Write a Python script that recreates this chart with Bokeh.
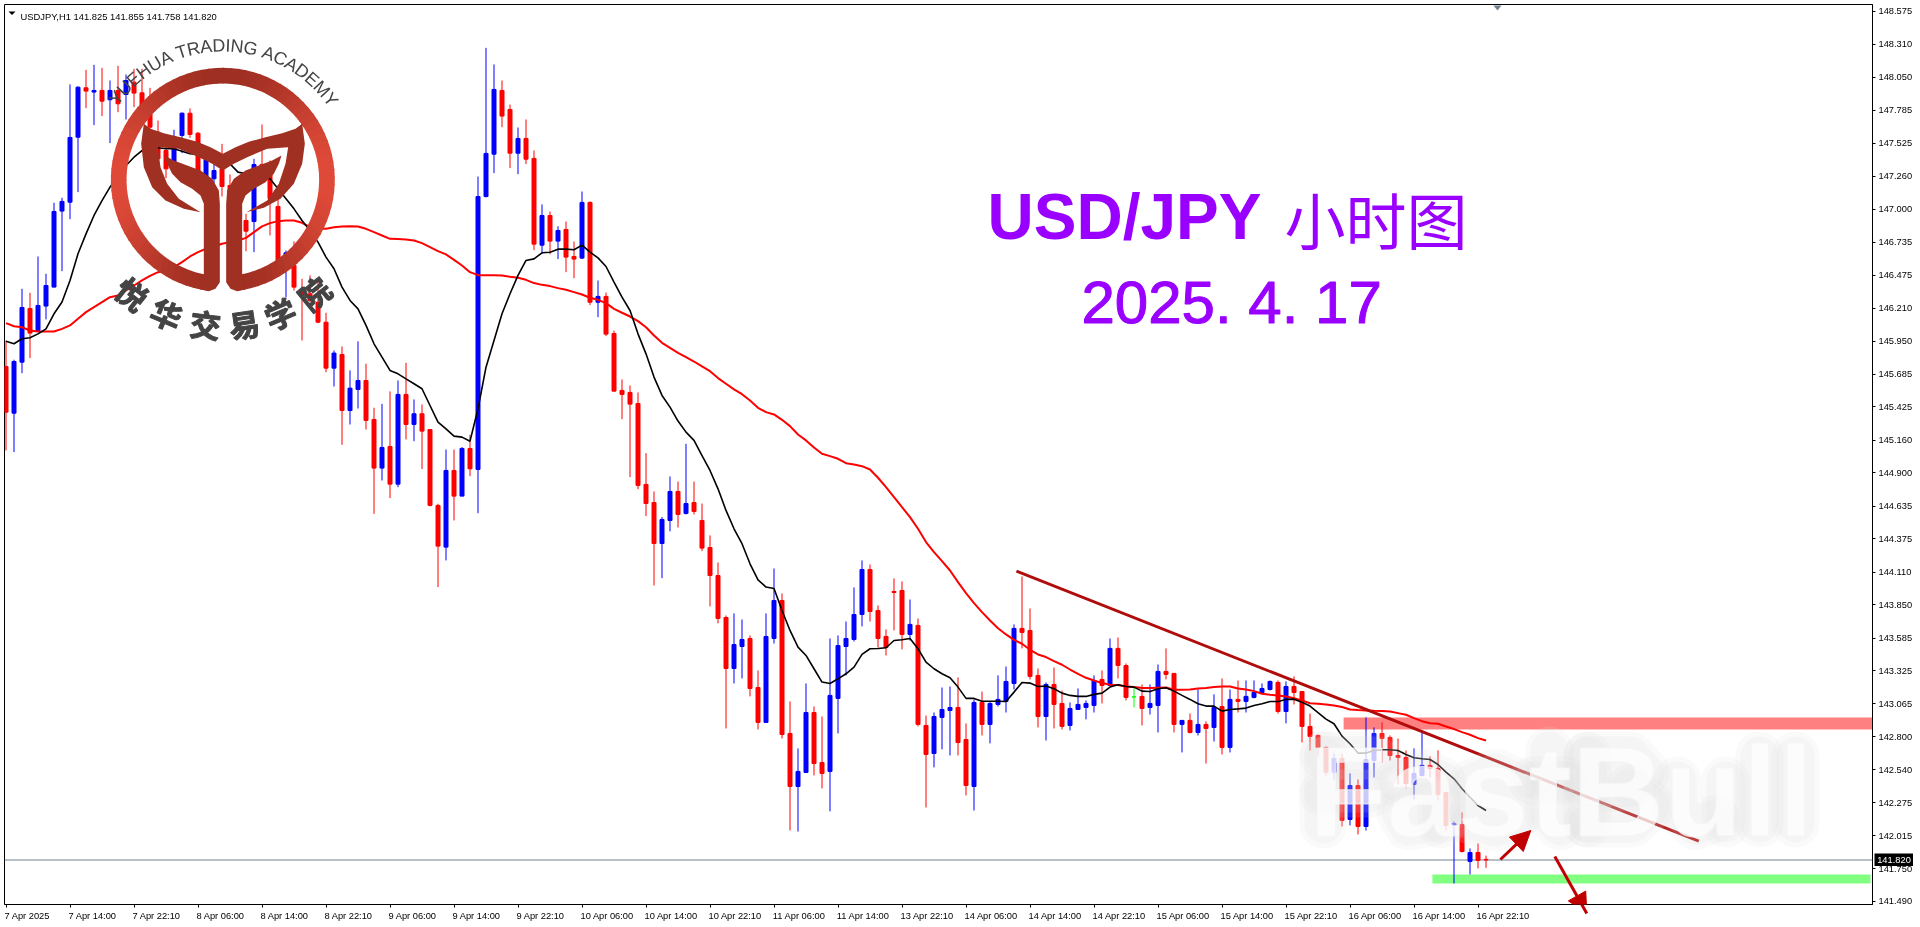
import math
from bokeh.embed import file_html
from bokeh.resources import INLINE
from bokeh.plotting import figure
from bokeh.models import (Range1d, FixedTicker, ColumnDataSource, Span,
                          BoxAnnotation, Arrow, NormalHead)
from bokeh.core.properties import value

open_ = [
145.748,145.376,145.782,146.209,146.034,146.228,146.379,146.984,147.055,147.572,
147.965,147.931,147.944,147.870,147.944,147.912,148.010,147.925,147.758,147.612,
147.466,147.360,147.586,147.763,147.604,147.254,147.241,147.320,147.188,147.042,
146.909,146.901,147.355,147.334,147.021,146.578,146.551,146.352,146.326,146.259,
146.100,145.734,145.843,145.397,145.565,145.636,145.326,144.939,145.111,144.811,
145.525,145.286,145.371,145.246,144.642,144.310,144.920,144.716,145.095,144.928,
147.100,147.437,147.944,147.793,147.445,147.562,147.403,146.713,146.949,146.745,
146.838,146.623,146.610,147.053,146.259,146.305,146.010,145.557,145.541,145.453,
144.809,144.665,144.339,144.522,144.753,144.578,144.665,144.522,144.307,144.084,
143.750,143.344,143.519,143.583,143.193,142.915,143.583,143.885,142.827,142.405,
142.517,142.994,142.596,142.525,143.106,143.519,143.575,143.774,144.132,143.806,
143.599,143.957,143.965,143.615,143.687,142.891,142.668,142.955,143.010,143.034,
142.779,142.405,143.074,142.899,143.058,143.082,143.225,143.663,143.647,143.289,
142.962,143.217,143.066,142.891,143.018,143.034,143.050,143.257,143.209,143.504,
143.368,143.118,143.122,143.034,143.050,143.321,143.305,142.899,142.931,142.835,
142.899,142.875,143.042,142.716,143.098,143.082,143.114,143.153,143.177,143.233,
143.002,143.201,143.161,142.883,142.811,142.716,142.517,142.628,142.143,142.413,
142.087,142.612,142.827,142.795,142.652,142.636,142.421,142.493,142.573,142.549,
142.358,142.095,142.103,141.809,141.880,141.825]
high = [
145.954,145.801,146.366,146.334,146.623,146.485,147.050,147.090,147.992,147.976,
148.108,148.148,148.124,148.023,148.140,148.071,148.116,148.116,147.965,147.705,
147.586,147.631,147.769,147.801,147.612,147.453,147.374,147.519,147.275,147.095,
146.962,147.400,147.673,147.387,147.188,146.671,146.742,146.445,146.472,146.432,
146.175,145.875,145.907,145.716,145.947,145.769,145.419,145.450,145.549,145.636,
145.777,145.485,145.445,145.246,144.655,145.087,145.087,145.106,145.204,147.259,
148.283,148.151,148.023,147.832,147.649,147.713,147.466,147.037,146.981,146.862,
146.901,146.742,147.140,147.061,146.432,146.336,146.034,145.644,145.596,145.541,
145.058,144.753,144.549,144.872,144.832,145.132,144.832,144.657,144.403,144.188,
143.766,143.782,143.734,143.607,143.328,143.782,144.140,143.941,143.082,142.708,
143.225,143.042,142.962,143.583,143.607,143.718,143.989,144.204,144.172,143.846,
143.655,144.061,144.037,143.893,143.742,142.970,142.994,143.193,143.201,143.273,
142.907,143.098,143.161,143.077,143.289,143.360,143.695,144.076,143.822,143.344,
143.233,143.352,143.169,143.074,143.185,143.090,143.289,143.328,143.583,143.591,
143.384,143.201,143.217,143.217,143.376,143.504,143.305,142.931,142.986,143.177,
142.923,143.138,143.265,143.177,143.249,143.249,143.249,143.225,143.249,143.249,
143.241,143.281,143.161,142.986,142.819,142.724,142.668,142.668,142.509,142.461,
142.955,142.875,142.915,142.811,142.787,142.692,142.708,142.851,142.644,142.692,
142.358,142.127,142.199,141.912,141.952,141.855]
low = [
145.079,145.066,145.694,145.814,146.021,146.122,146.379,146.506,146.920,147.135,
147.803,147.668,147.740,147.525,147.771,147.713,147.811,147.740,147.612,147.334,
147.246,147.281,147.445,147.567,147.267,147.175,147.095,147.100,146.962,146.750,
146.665,146.657,147.254,146.790,146.586,146.299,146.352,145.954,146.259,146.092,
145.702,145.588,145.124,145.286,145.413,145.246,144.575,144.840,144.700,144.787,
145.167,145.153,144.931,144.634,143.992,144.204,144.522,144.716,144.875,144.580,
147.092,147.286,147.652,147.326,147.278,147.358,146.673,146.644,146.641,146.602,
146.498,146.450,146.602,146.236,146.140,145.989,145.551,145.328,144.867,144.771,
144.557,144.005,144.063,144.435,144.466,144.570,144.570,144.278,143.838,143.703,
142.867,143.225,143.265,143.122,142.859,142.915,143.543,142.787,142.055,142.047,
142.517,142.493,142.390,142.207,142.827,143.289,143.559,143.679,143.718,143.512,
143.448,143.647,143.496,143.567,142.883,142.238,142.557,142.700,142.652,142.652,
142.334,142.214,142.811,142.748,143.042,142.994,143.177,143.504,143.257,142.875,
142.771,142.867,142.859,142.851,143.018,142.939,142.994,143.066,143.201,143.265,
143.090,143.034,142.891,142.978,142.835,143.257,142.835,142.676,142.827,142.811,
142.588,142.763,142.660,142.676,142.994,142.994,143.106,143.146,143.169,142.986,
142.907,143.058,142.755,142.692,142.644,142.485,142.461,142.087,142.095,142.023,
142.055,142.477,142.596,142.612,142.421,142.390,142.302,142.485,142.477,142.294,
142.055,141.634,141.880,141.705,141.753,141.758]
close = [
145.384,145.787,146.217,146.013,146.233,146.392,146.981,147.061,147.570,147.970,
147.939,147.944,147.859,147.944,147.838,148.023,147.923,147.824,147.652,147.400,
147.320,147.493,147.763,147.594,147.281,147.395,147.307,147.180,147.042,146.856,
146.824,147.355,147.328,147.082,146.591,146.652,146.379,146.313,146.273,146.100,
145.734,145.854,145.397,145.575,145.636,145.318,144.939,145.103,144.811,145.525,
145.286,145.371,145.233,144.642,144.318,144.920,144.716,145.095,144.933,147.100,
147.443,147.952,147.740,147.445,147.562,147.397,146.721,146.949,146.745,146.830,
146.618,146.602,147.053,146.259,146.305,146.005,145.551,145.525,145.448,144.801,
144.657,144.339,144.530,144.753,144.570,144.657,144.594,144.302,144.084,143.742,
143.344,143.535,143.575,143.185,142.915,143.599,143.885,142.819,142.405,142.525,
142.994,142.588,142.509,143.130,143.527,143.583,143.774,144.132,143.798,143.583,
143.512,143.949,143.615,143.695,142.899,142.660,142.962,143.018,143.034,142.755,
142.413,143.074,142.899,143.066,143.098,143.241,143.663,143.631,143.281,142.962,
143.217,143.058,142.883,143.026,143.058,143.066,143.249,143.209,143.504,143.368,
143.114,143.118,143.026,143.066,143.321,143.297,142.899,142.931,142.835,142.899,
142.867,143.034,142.716,143.098,143.082,143.122,143.153,143.185,143.241,143.002,
143.201,143.153,142.883,142.803,142.716,142.517,142.628,142.135,142.413,142.087,
142.620,142.827,142.787,142.652,142.636,142.429,142.509,142.573,142.549,142.342,
142.095,142.111,141.888,141.880,141.817,141.820]
ma_fast = [
145.949,145.928,145.968,145.976,146.007,146.047,146.167,146.260,146.432,146.644,
146.803,146.949,147.068,147.175,147.267,147.347,147.413,147.466,147.480,147.488,
147.480,147.480,147.461,147.440,147.435,147.427,147.413,147.387,147.360,147.294,
147.281,147.259,147.254,147.241,147.161,147.082,147.002,146.909,146.830,146.737,
146.618,146.525,146.379,146.273,146.206,146.074,145.928,145.822,145.716,145.689,
145.649,145.610,145.570,145.437,145.305,145.251,145.193,145.185,145.153,145.411,
145.742,145.954,146.167,146.326,146.472,146.591,146.604,146.652,146.657,146.681,
146.681,146.676,146.713,146.657,146.612,146.543,146.419,146.299,146.193,146.007,
145.848,145.663,145.517,145.424,145.313,145.225,145.159,145.039,144.920,144.774,
144.602,144.456,144.337,144.177,144.050,143.992,143.981,143.806,143.647,143.514,
143.448,143.342,143.236,143.225,143.262,143.302,143.355,143.456,143.501,143.503,
143.509,143.567,143.573,143.583,143.501,143.395,143.342,143.302,143.270,143.196,
143.106,143.106,143.084,143.084,143.084,143.082,143.156,143.233,143.228,143.201,
143.204,143.183,143.148,143.130,143.122,143.122,143.138,143.148,143.196,143.214,
143.201,143.196,143.164,143.161,143.183,143.191,143.164,143.130,143.098,143.063,
143.045,143.045,143.005,143.018,143.023,143.029,143.050,143.063,143.082,143.082,
143.098,143.100,143.076,143.045,142.992,142.941,142.904,142.806,142.745,142.671,
142.671,142.692,142.697,142.697,142.692,142.660,142.634,142.626,142.620,142.580,
142.520,142.466,142.387,142.320,142.254,142.214]
ma_slow = [
146.092,146.068,146.060,146.034,146.026,146.026,146.026,146.047,146.074,146.127,
146.180,146.220,146.259,146.299,146.313,146.352,146.392,146.432,146.469,146.498,
146.511,146.538,146.578,146.623,146.657,146.684,146.702,146.724,146.737,146.750,
146.771,146.817,146.862,146.888,146.904,146.909,146.909,146.891,146.856,146.843,
146.843,146.856,146.862,146.864,146.862,146.843,146.817,146.790,146.763,146.761,
146.758,146.750,146.729,146.697,146.665,146.639,146.596,146.551,146.498,146.474,
146.474,146.474,146.472,146.461,146.453,146.437,146.411,146.397,146.387,146.371,
146.358,146.339,146.320,146.294,146.278,146.252,146.206,146.175,146.145,146.108,
146.060,145.994,145.936,145.896,145.856,145.822,145.787,145.748,145.710,145.655,
145.610,145.565,145.527,145.477,145.419,145.384,145.366,145.323,145.273,145.206,
145.159,145.103,145.053,145.034,145.013,144.978,144.968,144.954,144.928,144.862,
144.787,144.708,144.628,144.549,144.456,144.350,144.270,144.199,144.124,144.031,
143.944,143.864,143.793,143.726,143.665,143.615,143.572,143.541,143.493,143.456,
143.435,143.403,143.374,143.336,143.302,143.270,143.249,143.228,143.214,143.212,
143.201,143.196,143.188,143.188,143.191,143.193,143.175,143.175,143.177,143.185,
143.188,143.196,143.201,143.201,143.185,143.177,143.164,143.143,143.135,143.130,
143.122,143.108,143.090,143.068,143.063,143.058,143.050,143.037,143.018,143.013,
143.010,143.007,143.005,143.002,142.989,142.976,142.949,142.925,142.909,142.904,
142.883,142.862,142.838,142.817,142.790,142.771]

price_ticks = [148.575,148.310,148.050,147.785,147.525,147.260,147.000,146.735,146.475,146.210,
               145.950,145.685,145.425,145.160,144.900,144.635,144.375,144.110,143.850,143.585,
               143.325,143.065,142.800,142.540,142.275,142.015,141.750,141.490]
date_labels = ["7 Apr 2025","7 Apr 14:00","7 Apr 22:10","8 Apr 06:00","8 Apr 14:00","8 Apr 22:10",
               "9 Apr 06:00","9 Apr 14:00","9 Apr 22:10","10 Apr 06:00","10 Apr 14:00","10 Apr 22:10",
               "11 Apr 06:00","11 Apr 14:00","13 Apr 22:10","14 Apr 06:00","14 Apr 14:00","14 Apr 22:10",
               "15 Apr 06:00","15 Apr 14:00","15 Apr 22:10","16 Apr 06:00","16 Apr 14:00","16 Apr 22:10"]
last_price = 141.820
trend_bar = [126.3, 211.6]
trend_price = [144.119, 141.970]
resist_zone = [167.2, 233.31, 142.859, 142.955]
support_zone = [178.3, 233.06, 141.634, 141.705]
arrow_up = [186.8, 141.824, 190.6, 142.055]
arrow_down = [193.6, 141.848, 197.6, 141.395]

BLUE, RED, GREEN = "#0000ff", "#ff0000", "#00ff00"
PURPLE = "#9900ff"
DARK = "#b00c0c"
F_SANS = "Liberation Sans"
FS = "9.3px"

n = len(open_)
bars = list(range(n))
colors = [GREEN if c == o else (BLUE if c > o else RED) for o, c in zip(open_, close)]
src = ColumnDataSource(dict(x=bars, o=open_, h=high, l=low, c=close, color=colors,
                            top=[max(a, b) for a, b in zip(open_, close)],
                            bottom=[min(a, b) for a, b in zip(open_, close)],
                            fast=ma_fast, slow=ma_slow))

p = figure(width=1920, height=927, output_backend="svg", toolbar_location=None,
           x_range=Range1d(-0.1875, 233.31), y_range=Range1d(141.466, 148.628),
           y_axis_location="right", min_border_left=4, min_border_top=4,
           min_border_right=48, min_border_bottom=23, background_fill_color="white",
           border_fill_color="white", outline_line_color="black", outline_line_width=1)
p.styles = {"position": "fixed", "left": "0px", "top": "0px"}
p.grid.visible = False

for ax in (p.xaxis[0], p.yaxis[0]):
    ax.axis_line_color = "black"
    ax.major_label_text_color = "black"
    ax.major_label_text_font = F_SANS
    ax.major_label_text_font_size = FS

ya = p.yaxis[0]
ya.ticker = FixedTicker(ticks=price_ticks)
ya.major_label_overrides = {t: f"{t:.3f}" for t in price_ticks}
ya.major_tick_in = 0
ya.major_tick_out = 3
ya.minor_tick_in = 0
ya.minor_tick_out = 0
ya.major_tick_line_color = "black"
ya.major_label_standoff = 3

# The date labels hang to the right of their ticks: the visible tick marks are the axis's
# minor ticks; the major ticks carry the labels, moved by half a label's width, and draw no mark.
date_ticks = [8 * k for k in range(len(date_labels))]
CW = {" ": .278, ":": .278, "A": .667, "p": .556, "r": .333}
def half_width_bars(s):
    return sum(CW.get(ch, .556) for ch in s) * 9.3 / 2 / 8
label_ticks = [round(t + half_width_bars(s) - 0.19, 3) for t, s in zip(date_ticks, date_labels)]
xa = p.xaxis[0]
xa.ticker = FixedTicker(ticks=label_ticks, minor_ticks=date_ticks)
xa.major_label_overrides = dict(zip(label_ticks, date_labels))
xa.major_tick_line_color = None
xa.major_tick_in = 0
xa.major_tick_out = 0
xa.minor_tick_in = 0
xa.minor_tick_out = 3
xa.minor_tick_line_color = "black"
xa.major_label_standoff = 3

p.extra_x_ranges["px"] = Range1d(4, 1872)
p.extra_y_ranges["px"] = Range1d(904, 4)
PX = dict(x_range_name="px", y_range_name="px")

# zones, price line
for z, col in ((resist_zone, "#ff8080"), (support_zone, "#80ff80")):
    p.quad(left=[z[0]], right=[z[1]], bottom=[z[2]], top=[z[3]], fill_color=col, line_color=None)
p.add_layout(Span(location=last_price, dimension="width", line_color="#708090", line_width=1, level="underlay"))

# candles
p.segment("x", "h", "x", "l", source=src, color="color", line_width=1)
p.vbar(x="x", width=0.5, top="top", bottom="bottom", source=src, fill_color="color",
       line_color="color", line_width=1)
# moving averages
p.line("x", "slow", source=src, line_color="#ff0000", line_width=2)
p.line("x", "fast", source=src, line_color="#000000", line_width=1.6)
# trendline
p.line(trend_bar, trend_price, line_color=DARK, line_width=3)

# ---- logo (drawn in picture-pixel space, 3x zoom units) ----
CX, CY, RO, RI = 667.0, 538.0, 336.0, 289.0
def mix(t):
    a, b = (0x9f, 0x2f, 0x22), (0xe0, 0x4a, 0x39)
    return "#%02x%02x%02x" % tuple(int(a[k] + (b[k] - a[k]) * t) for k in range(3))
wedges_x, wedges_y, wedge_c = [], [], []
N = 90
for k in range(N):
    po0 = 7.2 + (345.6) * k / N
    po1 = 7.2 + (345.6) * (k + 1.15) / N
    pi0 = 11.2 + (337.6) * k / N
    pi1 = 11.2 + (337.6) * (k + 1.15) / N
    pts = [(RO, po0), (RO, po1), (RI, pi1), (RI, pi0)]
    wedges_x.append([(CX - r * math.sin(math.radians(a))) / 3 for r, a in pts])
    wedges_y.append([(CY + r * math.cos(math.radians(a))) / 3 for r, a in pts])
    wedge_c.append(mix(abs(math.sin(math.radians((po0 + po1) / 2))) ** 2))
p.patches(wedges_x, wedges_y, fill_color=wedge_c, line_color=None, **PX)

BROWN = "#a03022"
crescent = [(430,370),(450,385),(490,398),(540,410),(590,424),(630,440),(667,460),(705,440),(745,424),
            (795,410),(845,398),(885,385),(905,370),(913,430),(905,490),(880,550),(840,595),(790,622),
            (738,635),(800,600),(835,550),(855,490),(863,440),(800,445),(740,470),(700,490),(667,510),
            (635,490),(595,470),(535,445),(472,440),(480,500),(500,550),(535,595),(600,635),(550,625),
            (495,600),(455,560),(430,500),(422,430)]
leaf = [(492,465),(520,480),(560,495),(600,510),(635,535),(655,570),(658,610),(658,845),(645,865),
        (625,872),(600,866),(610,825),(610,610),(600,585),(575,565),(540,545),(515,520),(500,490)]
p.patch([a / 3 for a, b in crescent], [b / 3 for a, b in crescent], fill_color=BROWN, line_color=None, **PX)
p.patch([a / 3 for a, b in leaf], [b / 3 for a, b in leaf], fill_color=BROWN, line_color=None, **PX)
p.patch([(1335 - a) / 3 for a, b in leaf], [b / 3 for a, b in leaf], fill_color=BROWN, line_color=None, **PX)

arc_text = "YUEHUA TRADING ACADEMY"
w = {"Y":.667,"U":.722,"E":.667,"H":.722,"A":.667," ":.278,"T":.611,"R":.722,"D":.722,"I":.278,
     "N":.722,"G":.778,"C":.722,"M":.833}
pos, run = [], 0.0
for ch in arc_text:
    pos.append(run + w[ch] / 2)
    run += w[ch]
a0, a1 = -52.4, 53.3
ang = [a0 + (a1 - a0) * (q - pos[0]) / (pos[-1] - pos[0]) for q in pos]
p.text([(CX + 403 * math.sin(math.radians(a))) / 3 for a in ang],
       [(CY - 403 * math.cos(math.radians(a))) / 3 for a in ang],
       text=list(arc_text), angle=[-math.radians(a) for a in ang], text_color="#444444",
       text_font=value(F_SANS), text_font_size="18px", text_align="center", text_baseline="middle", **PX)
cn = list("悦华交易学院")
cn_ang = [-38.5, -22.7, -6.9, 8.4, 23.2, 38.9]
p.text([(CX + 435 * math.sin(math.radians(a))) / 3 for a in cn_ang],
       [(CY + 435 * math.cos(math.radians(a))) / 3 for a in cn_ang],
       text=cn, angle=[math.radians(a) for a in cn_ang], text_color="#444444",
       text_outline_color="#444444",
       text_font=value("Noto Sans CJK SC"), text_font_style="bold", text_font_size="31px",
       text_align="center", text_baseline="middle", **PX)

# watermark: a faint grey halo round the letters, then the pale letters themselves
halo = [[(1323,755),(1323,824)], [(1323,755),(1378,755)], [(1323,793),(1370,793)],
        [(1397,782),(1421,772),(1441,780),(1441,824)],
        [(1441,800),(1415,802),(1400,812),(1408,826),(1430,822),(1441,812)],
        [(1518,782),(1495,772),(1472,782),(1480,797),(1505,805),(1516,816),(1495,827),(1470,820)],
        [(1549,750),(1549,815),(1560,826)], [(1532,780),(1566,780)],
        [(1587,755),(1587,823)], [(1587,755),(1630,755),(1645,772),(1630,787),(1587,787)],
        [(1630,787),(1650,805),(1632,823),(1587,823)],
        [(1677,780),(1677,810),(1695,825),(1715,818)], [(1725,780),(1725,823)],
        [(1759,755),(1759,823)], [(1795,755),(1795,823)]]
for lw in (48, 38):
    p.multi_line([[a for a, b in s] for s in halo], [[b for a, b in s] for s in halo], line_color="#dcdcdc",
                 line_alpha=0.14, line_width=lw, line_cap="round", line_join="round", **PX)
p.text([1308], [791], text=["FastBull"], text_color="#ffffff", text_alpha=0.72,
       text_outline_color="#f4f4f4", text_font=value(F_SANS), text_font_style="bold",
       text_font_size="128px", text_align="left", text_baseline="alphabetic", **PX)

# arrows (not clipped at the frame)
for a in (arrow_up, arrow_down):
    p.add_layout(Arrow(end=NormalHead(size=20, fill_color="#c00000", line_color="#c00000"),
                       x_start=a[0], y_start=a[1], x_end=a[2], y_end=a[3],
                       line_color="#c00000", line_width=3))

# headings
p.text([987], [241.7 - 25], text=["USD/JPY"], text_color=PURPLE, text_font=value(F_SANS), text_font_style="bold",
       text_font_size="64px", text_align="left", text_baseline="alphabetic", **PX)
p.text([1284], [241 - 23], text=["小时图"], text_color=PURPLE, text_font=value("Noto Sans CJK SC"),
       text_font_size="61px", text_align="left", text_baseline="alphabetic", **PX)
p.text([1081], [325 - 23], text=["2025. 4. 17"], text_color=PURPLE, text_outline_color=PURPLE,
       text_font=value(F_SANS), text_font_size="60px", text_align="left", text_baseline="alphabetic", **PX)
p.text([20], [15.5], text=["USDJPY,H1  141.825 141.855 141.758 141.820"], text_color="#000000",
       text_font=value(F_SANS), text_font_size="9.4px", text_align="left", text_baseline="alphabetic", **PX)
p.patch([8, 15, 11.5], [11, 11, 14.5], fill_color="black", line_color=None, **PX)
p.patch([1493, 1501, 1497], [5, 5, 10], fill_color="#708090", line_color=None, **PX)

# window edges
for box in ((0, 1920, 0, 2, "#a0a0a0"), (0, 2, 0, 927, "#a0a0a0"), (0, 1920, 925, 926, "#d0d0d0")):
    p.add_layout(BoxAnnotation(left=box[0], right=box[1], top=box[2], bottom=box[3], left_units="canvas",
                               right_units="canvas", top_units="canvas", bottom_units="canvas",
                               fill_color=box[4], fill_alpha=1, line_color=None))

# current price tag: it lies outside the main plot's frame, so it is a tiny figure of its own
tag = figure(width=39, height=13, output_backend="svg", toolbar_location=None, x_axis_type=None, y_axis_type=None,
             x_range=Range1d(0, 39), y_range=Range1d(0, 13), min_border=0, background_fill_color="black",
             border_fill_color="black", outline_line_color=None)
tag.grid.visible = False
tag.styles = {"position": "fixed", "left": "1874px", "top": "853px"}
tag.text([19.5], [6.5], text=[f"{last_price:.3f}"], text_color="white", text_font=value(F_SANS),
         text_font_size=FS, text_align="center", text_baseline="middle")

open("out.html", "w").write(file_html([p, tag], INLINE))
